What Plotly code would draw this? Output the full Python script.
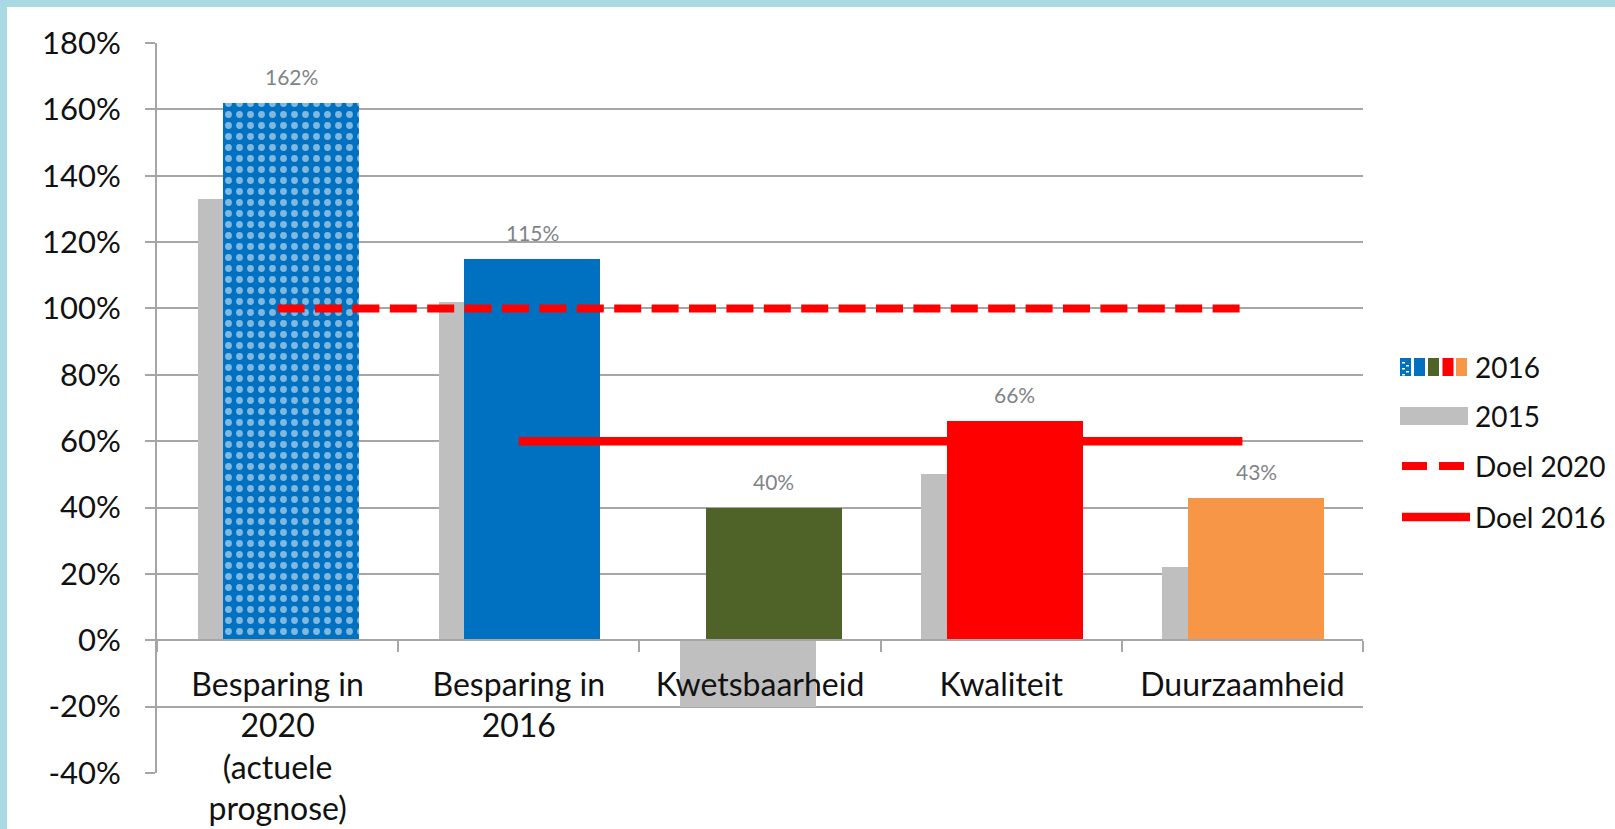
import plotly.graph_objects as go

# ---------------- data ----------------
CATEGORIES = [
    "Besparing in<br>2020<br>(actuele<br>prognose)",
    "Besparing in<br>2016",
    "Kwetsbaarheid",
    "Kwaliteit",
    "Duurzaamheid",
]
VALUES_2016 = [162, 115, 40, 66, 43]
VALUES_2015 = [133, 102, -20, 50, 22]
LABELS_2016 = ["162%", "115%", "40%", "66%", "43%"]
DOEL_2020_X = [CATEGORIES[0], CATEGORIES[4]]
DOEL_2020_Y = [100, 100]
DOEL_2016_X = [CATEGORIES[1], CATEGORIES[4]]
DOEL_2016_Y = [60, 60]
TICK_VALUES = [-40, -20, 0, 20, 40, 60, 80, 100, 120, 140, 160, 180]
TICK_LABELS = ["-40%", "-20%", "0%", "20%", "40%", "60%", "80%", "100%",
               "120%", "140%", "160%", "180%"]
LEGEND_NAMES = ["2016", "2015", "Doel 2020", "Doel 2016"]

# ---------------- style ----------------
COLORS_2016 = ["#0070C0", "#0070C0", "#4F6228", "#FF0000", "#F79646"]
PATTERNS_2016 = [".", "", "", "", ""]
GRAY = "#BFBFBF"
RED = "#FF0000"
GRID = "#A6A6A6"
FONT = "Lato"

W, H = 1615, 829
ML, MR, MT, MB = 157, 252, 43, 56
PW, PH = W - ML - MR, H - MT - MB


def px_x(px):
    return (px - ML) / PW


def px_y(py):
    return (H - MB - py) / PH


fig = go.Figure()

fig.add_trace(go.Bar(
    x=CATEGORIES, y=VALUES_2015, name="2015",
    marker=dict(color=GRAY, line=dict(width=0)),
    width=0.5636, offset=-0.3315, showlegend=False,
))
fig.add_trace(go.Bar(
    x=CATEGORIES, y=VALUES_2016, name="2016",
    marker=dict(color=COLORS_2016, line=dict(width=0),
                pattern=dict(shape=PATTERNS_2016, fillmode="overlay",
                             fgcolor="white", size=11, solidity=0.3)),
    width=0.5636, offset=-0.2254, showlegend=False,
))
fig.add_trace(go.Scatter(
    x=DOEL_2020_X, y=DOEL_2020_Y, mode="lines", name="Doel 2020",
    line=dict(color=RED, width=8, dash="27px,10.4px"), showlegend=False,
))
fig.add_trace(go.Scatter(
    x=DOEL_2016_X, y=DOEL_2016_Y, mode="lines", name="Doel 2016",
    line=dict(color=RED, width=8.5), showlegend=False,
))

annotations = []
for cat, val, lab in zip(CATEGORIES, VALUES_2016, LABELS_2016):
    annotations.append(dict(
        x=cat, y=val, xref="x", yref="y", text=lab, showarrow=False,
        xshift=13.6, yshift=12, yanchor="bottom",
        font=dict(family=FONT, size=21, color="#7F8488"),
    ))

shapes = [
    # white sheet over the light-blue decorative border
    dict(type="rect", xref="paper", yref="paper", layer="below",
         x0=px_x(7), x1=px_x(W + 5), y0=px_y(7), y1=px_y(H + 5),
         fillcolor="white", line=dict(width=0)),
]

# ---- manual legend ----
leg_y = [367, 416, 466, 517]
sq_cols = ["#0070C0", "#0070C0", "#4F6228", "#FF0000", "#F79646"]
sq_x0 = [1400, 1414, 1428, 1442.5, 1456]
for c, x0 in zip(sq_cols, sq_x0):
    shapes.append(dict(type="rect", xref="paper", yref="paper",
                       x0=px_x(x0), x1=px_x(x0 + 11),
                       y0=px_y(leg_y[0] - 9), y1=px_y(leg_y[0] + 9),
                       fillcolor=c, line=dict(width=0)))
for dx, dy in [(2, -5), (6, -2), (2, 1), (6, 4), (2, 7)]:
    shapes.append(dict(type="rect", xref="paper", yref="paper",
                       x0=px_x(1400 + dx), x1=px_x(1400 + dx + 3),
                       y0=px_y(leg_y[0] + dy), y1=px_y(leg_y[0] + dy + 1.5),
                       fillcolor="white", line=dict(width=0)))
shapes.append(dict(type="rect", xref="paper", yref="paper",
                   x0=px_x(1400), x1=px_x(1468),
                   y0=px_y(leg_y[1] - 9), y1=px_y(leg_y[1] + 9),
                   fillcolor=GRAY, line=dict(width=0)))
shapes.append(dict(type="line", xref="paper", yref="paper",
                   x0=px_x(1402), x1=px_x(1466),
                   y0=px_y(leg_y[2]), y1=px_y(leg_y[2]),
                   line=dict(color=RED, width=8, dash="25px,12px")))
shapes.append(dict(type="line", xref="paper", yref="paper",
                   x0=px_x(1402), x1=px_x(1470),
                   y0=px_y(leg_y[3]), y1=px_y(leg_y[3]),
                   line=dict(color=RED, width=8.5)))
for name, yy in zip(LEGEND_NAMES, leg_y):
    annotations.append(dict(
        x=px_x(1473), y=px_y(yy), xref="paper", yref="paper",
        text=name, showarrow=False, xanchor="left", yanchor="middle",
        font=dict(family=FONT, size=28, color="#111111"),
    ))

fig.update_layout(
    width=W, height=H,
    margin=dict(l=ML, r=MR, t=MT, b=MB, pad=0),
    paper_bgcolor="#A9DAE4",
    plot_bgcolor="rgba(0,0,0,0)",
    barmode="overlay",
    bargap=0,
    showlegend=False,
    font=dict(family=FONT, color="#111111"),
    annotations=annotations,
    shapes=shapes,
    xaxis=dict(
        type="category",
        anchor="free", position=40 / 220,
        showline=True, linecolor=GRID, linewidth=2,
        ticks="outside", tickson="boundaries", ticklen=11,
        tickcolor=GRID, tickwidth=2,
        showgrid=False, zeroline=False,
        tickfont=dict(family=FONT, size=32, color="#111111"),
        ticklabelstandoff=16,
        automargin=False, fixedrange=True,
    ),
    yaxis=dict(
        range=[-40, 180],
        tickvals=TICK_VALUES, ticktext=TICK_LABELS,
        showline=True, linecolor=GRID, linewidth=2,
        ticks="outside", ticklen=10, tickcolor=GRID, tickwidth=2,
        showgrid=True, gridcolor=GRID, gridwidth=2,
        zeroline=False,
        tickfont=dict(family=FONT, size=31, color="#111111"),
        ticklabelstandoff=18,
        automargin=False, fixedrange=True,
    ),
)

fig.write_html("out.html", config={"displayModeBar": False},
               post_script="document.body.style.margin='0';")
